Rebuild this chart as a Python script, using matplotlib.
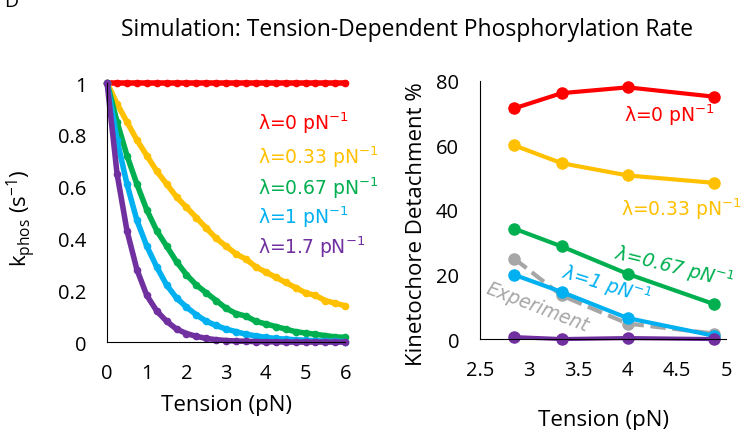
import matplotlib
matplotlib.use("Agg")
import matplotlib.pyplot as plt

plt.rcParams['font.family'] = ['Open Sans', 'DejaVu Sans']

# left panel: k_phos vs tension
tension = [0, 0.25, 0.5, 0.75, 1, 1.25, 1.5, 1.75, 2, 2.25, 2.5, 2.75, 3,
           3.25, 3.5, 3.75, 4, 4.25, 4.5, 4.75, 5, 5.25, 5.5, 5.75, 6]
k_l0 = [1.0] * 25
k_l033 = [1.0, 0.92, 0.85, 0.78, 0.72, 0.66, 0.61, 0.56, 0.52, 0.48, 0.44, 0.40, 0.37,
          0.34, 0.32, 0.29, 0.27, 0.25, 0.23, 0.21, 0.19, 0.18, 0.16, 0.15, 0.14]
k_l067 = [1.0, 0.85, 0.72, 0.61, 0.51, 0.43, 0.37, 0.31, 0.26, 0.22, 0.19, 0.16, 0.13,
          0.11, 0.10, 0.08, 0.07, 0.06, 0.05, 0.04, 0.035, 0.03, 0.025, 0.02, 0.018]
k_l1 = [1.0, 0.78, 0.61, 0.47, 0.37, 0.29, 0.22, 0.17, 0.135, 0.105, 0.08, 0.064, 0.05,
        0.04, 0.03, 0.024, 0.018, 0.014, 0.011, 0.009, 0.007, 0.005, 0.004, 0.003, 0.002]
k_l17 = [1.0, 0.65, 0.43, 0.28, 0.18, 0.12, 0.08, 0.05, 0.033, 0.022, 0.014, 0.009, 0.006,
         0.004, 0.003, 0.002, 0.001, 0.001, 0, 0, 0, 0, 0, 0, 0]

# right panel: detachment % vs tension
tension_exp = [2.85, 3.33, 4.0, 4.88]
det_l0 = [71.5, 76.2, 78.0, 75.1]
det_l033 = [60.0, 54.5, 50.7, 48.4]
det_l067 = [34.2, 28.7, 20.2, 10.8]
det_l1 = [19.9, 14.6, 6.5, 1.0]
det_exp = [24.9, 13.5, 4.8, 1.7]
det_l17 = [0.6, 0.0, 0.3, 0.0]

red, yellow, green, blue, purple, gray = '#FF0000', '#FFC000', '#00B050', '#00B0F0', '#7030A0', '#A6A6A6'
lam_font = ['DejaVu Sans']

fig = plt.figure(figsize=(7.44, 4.31), dpi=100)
ax1 = fig.add_axes([0.144, 0.204, 0.32, 0.601])
ax2 = fig.add_axes([0.645, 0.211, 0.331, 0.599])

for vals, c in [(k_l0, red), (k_l033, yellow), (k_l067, green), (k_l1, blue), (k_l17, purple)]:
    ax1.plot(tension, vals, color=c, lw=4, marker='o', ms=4.5, clip_on=False, solid_capstyle='round')
ax1.set_xlim(0, 6)
ax1.set_ylim(0, 1)
ax1.set_xticks(range(7))
ax1.set_yticks([0, 0.2, 0.4, 0.6, 0.8, 1])
ax1.set_yticklabels(['0', '0.2', '0.4', '0.6', '0.8', '1'])
ax1.set_xlabel('Tension (pN)', fontsize=16)
ax1.set_ylabel(r'k$_\mathregular{phos}$ (s$^\mathregular{-1}$)', fontsize=16)
ax1.xaxis.set_label_coords(0.5, -0.2)
ax1.yaxis.set_label_coords(-0.29, 0.483)

lab_left = [('λ=0 pN$^{-1}$', red, 0.85), ('λ=0.33 pN$^{-1}$', yellow, 0.718),
            ('λ=0.67 pN$^{-1}$', green, 0.598), ('λ=1 pN$^{-1}$', blue, 0.486),
            ('λ=1.7 pN$^{-1}$', purple, 0.37)]
for txt, c, y in lab_left:
    ax1.text(3.8, y, txt, color=c, fontsize=13.5, family=lam_font, va='center', clip_on=False)

series = [(det_l0, red, '-'), (det_l033, yellow, '-'), (det_l067, green, '-'),
          (det_exp, gray, '--'), (det_l1, blue, '-'), (det_l17, purple, '-')]
for vals, c, ls in series:
    ax2.plot(tension_exp, vals, color=c, ls=ls, lw=3, marker='o', ms=8, clip_on=False)
ax2.set_xlim(2.5, 5)
ax2.set_ylim(0, 80)
ax2.set_xticks([2.5, 3, 3.5, 4, 4.5, 5])
ax2.set_xticklabels(['2.5', '3', '3.5', '4', '4.5', '5'])
ax2.set_yticks([0, 20, 40, 60, 80])
ax2.set_xlabel('Tension (pN)', fontsize=16)
ax2.set_ylabel('Kinetochore Detachment %', fontsize=16)
ax2.xaxis.set_label_coords(0.5, -0.27)
ax2.yaxis.set_label_coords(-0.215, 0.45)

ax2.text(4.42, 69.7, 'λ=0 pN$^{-1}$', color=red, fontsize=13.5, family=lam_font, ha='center', va='center')
ax2.text(4.55, 40.4, 'λ=0.33 pN$^{-1}$', color=yellow, fontsize=13.5, family=lam_font, ha='center', va='center', clip_on=False)
ax2.text(4.47, 22.4, 'λ=0.67 pN$^{-1}$', color=green, fontsize=13.5, family=lam_font, ha='center', va='center', rotation=-14, style='italic', clip_on=False)
ax2.text(3.79, 16.9, 'λ=1 pN$^{-1}$', color=blue, fontsize=13.5, family=lam_font, ha='center', va='center', rotation=-17, style='italic')
ax2.text(3.08, 10.0, 'Experiment', color=gray, fontsize=13.5, family=lam_font, ha='center', va='center', rotation=-21, style='italic')

for ax in (ax1, ax2):
    ax.spines['top'].set_visible(False)
    ax.spines['right'].set_visible(False)
    ax.tick_params(length=0, labelsize=14.5, pad=15)

fig.text(0.547, 0.93, 'Simulation: Tension-Dependent Phosphorylation Rate', ha='center', va='center', fontsize=16.5)
fig.text(0.005, 0.995, 'D', fontsize=14, va='center')

fig.savefig('out.png', dpi=100)
